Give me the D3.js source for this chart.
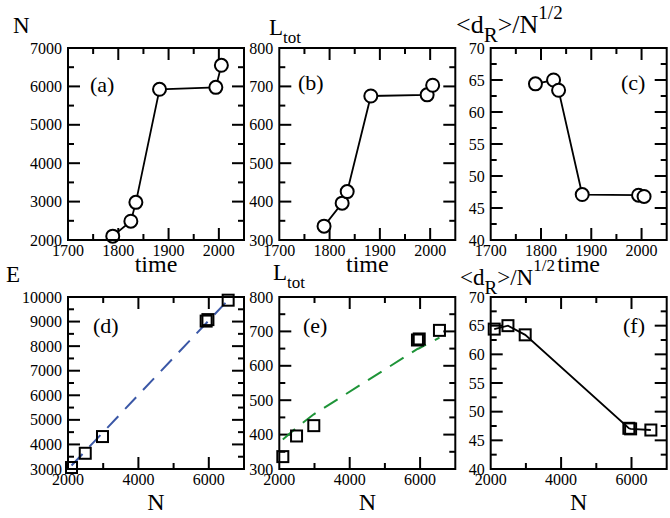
<!DOCTYPE html>
<html>
<head>
<meta charset="utf-8">
<script src="https://cdn.jsdelivr.net/npm/d3@7"></script>
<style>
  body { margin: 0; background: #fff; }
</style>
</head>
<body>
<svg width="670" height="518"></svg>
<script>
// values
var years   = [1789, 1825, 1835, 1882, 1994, 2005];
var nodes   = [2100, 2490, 2980, 5925, 5975, 6550];
var lengths = [336, 396, 426, 675, 678, 703];
var dRatio  = [64.4, 65.0, 63.4, 47.1, 47.0, 46.8];
var edges   = [3060, 3640, 4320, 9020, 9080, 9870];
// dashed fits, at the same N values
var edgeFit = [3140, 3730, 4470, 8930, 9010, 9880];
var lenFit  = [386, 420, 459, 649, 651, 682];

var yearTicks = [1700, 1800, 1900, 2000];
var nTicks    = [2000, 4000, 6000];
var nTicksY   = [2000, 3000, 4000, 5000, 6000, 7000];
var lTicks    = [300, 400, 500, 600, 700, 800];
var rTicks    = [40, 45, 50, 55, 60, 65, 70];
var eTicks    = [3000, 4000, 5000, 6000, 7000, 8000, 9000, 10000];

var FONT = "'Liberation Serif'";
var svg = d3.select("svg");

var colX = [68, 279.3, 490.7], pw = 176;
var rows = [{top: 48, h: 192}, {top: 297, h: 172}];

function txt(sel, size) {
  return sel.style("font-family", FONT).style("font-size", size + "px").attr("fill", "#000");
}

function panel(o) {
  var x0 = colX[o.col], r = rows[o.row];
  var x = d3.scaleLinear().domain(o.xd).range([x0, x0 + pw]);
  var y = d3.scaleLinear().domain(o.yd).range([r.top + r.h, r.top]);
  var g = svg.append("g");
  var big = 12, small = 6;

  // inward ticks on all four sides
  d3.range(o.xd[0], o.xd[1] + 1e-9, o.xMinor).forEach(function(v) {
    var L = o.xTicks.indexOf(v) >= 0 ? big : small;
    if (v == o.xd[0] || v == o.xd[1]) return;
    g.append("line").attr("x1", x(v)).attr("x2", x(v)).attr("y1", r.top + r.h).attr("y2", r.top + r.h - L)
      .attr("stroke", "#000").attr("stroke-width", 2);
    g.append("line").attr("x1", x(v)).attr("x2", x(v)).attr("y1", r.top).attr("y2", r.top + L)
      .attr("stroke", "#000").attr("stroke-width", 2);
  });
  d3.range(o.yd[0], o.yd[1] + 1e-9, o.yMinor).forEach(function(v) {
    var L = o.yTicks.indexOf(v) >= 0 ? big : small;
    if (v == o.yd[0] || v == o.yd[1]) return;
    g.append("line").attr("y1", y(v)).attr("y2", y(v)).attr("x1", x0).attr("x2", x0 + L)
      .attr("stroke", "#000").attr("stroke-width", 2);
    g.append("line").attr("y1", y(v)).attr("y2", y(v)).attr("x1", x0 + pw).attr("x2", x0 + pw - L)
      .attr("stroke", "#000").attr("stroke-width", 2);
  });

  txt(g.selectAll(".xl").data(o.xTicks).enter().append("text")
    .attr("x", function(d) { return x(d); })
    .attr("y", r.top + r.h + 16)
    .attr("text-anchor", "middle"), 16)
    .text(function(d) { return d; });
  txt(g.selectAll(".yl").data(o.yTicks).enter().append("text")
    .attr("x", x0 - 6)
    .attr("y", function(d) { return y(d) + 5.5; })
    .attr("text-anchor", "end"), 16)
    .text(function(d) { return d; });

  if (o.fit) {
    g.append("path")
      .attr("d", d3.line().x(function(d, i) { return x(o.xs[i]); }).y(function(d) { return y(d); })(o.fit))
      .attr("fill", "none").attr("stroke", o.fitColor).attr("stroke-width", 2)
      .attr("stroke-dasharray", "16,10");
  }
  if (o.joined) {
    g.append("path")
      .attr("d", d3.line().x(function(d, i) { return x(o.xs[i]); }).y(function(d) { return y(d); })(o.ys))
      .attr("fill", "none").attr("stroke", "#000").attr("stroke-width", 1.8);
  }
  if (o.marker == "circle") {
    g.selectAll("circle").data(o.ys).enter().append("circle")
      .attr("cx", function(d, i) { return x(o.xs[i]); })
      .attr("cy", function(d) { return y(d); })
      .attr("r", 6.5)
      .attr("fill", "#fff").attr("stroke", "#000").attr("stroke-width", 2);
  } else {
    g.selectAll("rect.m").data(o.ys).enter().append("rect")
      .attr("x", function(d, i) { return x(o.xs[i]) - 5.5; })
      .attr("y", function(d) { return y(d) - 5.5; })
      .attr("width", 11).attr("height", 11)
      .attr("fill", "none").attr("stroke", "#000").attr("stroke-width", 2);
  }

  g.append("rect").attr("x", x0).attr("y", r.top).attr("width", pw).attr("height", r.h)
    .attr("fill", "none").attr("stroke", "#000").attr("stroke-width", 2);

  txt(g.append("text").attr("x", o.tag[0]).attr("y", o.tag[1]), 22).text(o.label);
  txt(g.append("text").attr("x", x0 + pw / 2).attr("y", o.row == 0 ? 272 : 510)
    .attr("text-anchor", "middle"), 24).text(o.xTitle);
  return g;
}

function yTitle(kind, xx, yy, s) {
  var t = txt(svg.append("text").attr("x", xx).attr("y", yy), s || 23);
  if (kind == "N") t.text("N");
  else if (kind == "E") t.text("E");
  else if (kind == "L") {
    t.append("tspan").text("L");
    t.append("tspan").attr("dy", 8).style("font-size", "17px").text("tot");
  } else {
    var k = s / 23;
    t.append("tspan").text("<d");
    t.append("tspan").attr("dy", 9).style("font-size", Math.round(19 * k) + "px").text("R");
    t.append("tspan").attr("dy", -9).text(">/N");
    t.append("tspan").attr("dy", -14).style("font-size", Math.round(17 * k) + "px").text("1/2");
  }
}

panel({col: 0, row: 0, xd: [1700, 2050], yd: [2000, 7000], xTicks: yearTicks, xMinor: 50, yTicks: nTicksY, yMinor: 500,
  xs: years, ys: nodes, joined: true, marker: "circle", label: "(a)", tag: [90, 92], xTitle: "time"});
panel({col: 1, row: 0, xd: [1700, 2050], yd: [300, 800], xTicks: yearTicks, xMinor: 50, yTicks: lTicks, yMinor: 50,
  xs: years, ys: lengths, joined: true, marker: "circle", label: "(b)", tag: [298, 90], xTitle: "time"});
panel({col: 2, row: 0, xd: [1700, 2050], yd: [40, 70], xTicks: yearTicks, xMinor: 50, yTicks: rTicks, yMinor: 2.5,
  xs: years, ys: dRatio, joined: true, marker: "circle", label: "(c)", tag: [621, 90], xTitle: "time"});
panel({col: 0, row: 1, xd: [2000, 7000], yd: [3000, 10000], xTicks: nTicks, xMinor: 1000, yTicks: eTicks, yMinor: 500,
  xs: nodes, ys: edges, fit: edgeFit, fitColor: "#3a57a6", marker: "square", label: "(d)", tag: [93, 333], xTitle: "N"});
panel({col: 1, row: 1, xd: [2000, 7000], yd: [300, 800], xTicks: nTicks, xMinor: 1000, yTicks: lTicks, yMinor: 50,
  xs: nodes, ys: lengths, fit: lenFit, fitColor: "#1e9438", marker: "square", label: "(e)", tag: [303, 333], xTitle: "N"});
panel({col: 2, row: 1, xd: [2000, 7000], yd: [40, 70], xTicks: nTicks, xMinor: 1000, yTicks: rTicks, yMinor: 2.5,
  xs: nodes, ys: dRatio, joined: true, marker: "square", label: "(f)", tag: [623, 333], xTitle: "N"});

yTitle("N", 13, 33);
yTitle("L", 269, 35);
yTitle("R", 456, 33, 26);
yTitle("E", 6, 282);
yTitle("L", 273, 280);
yTitle("R", 460, 285, 23);
</script>
</body>
</html>
